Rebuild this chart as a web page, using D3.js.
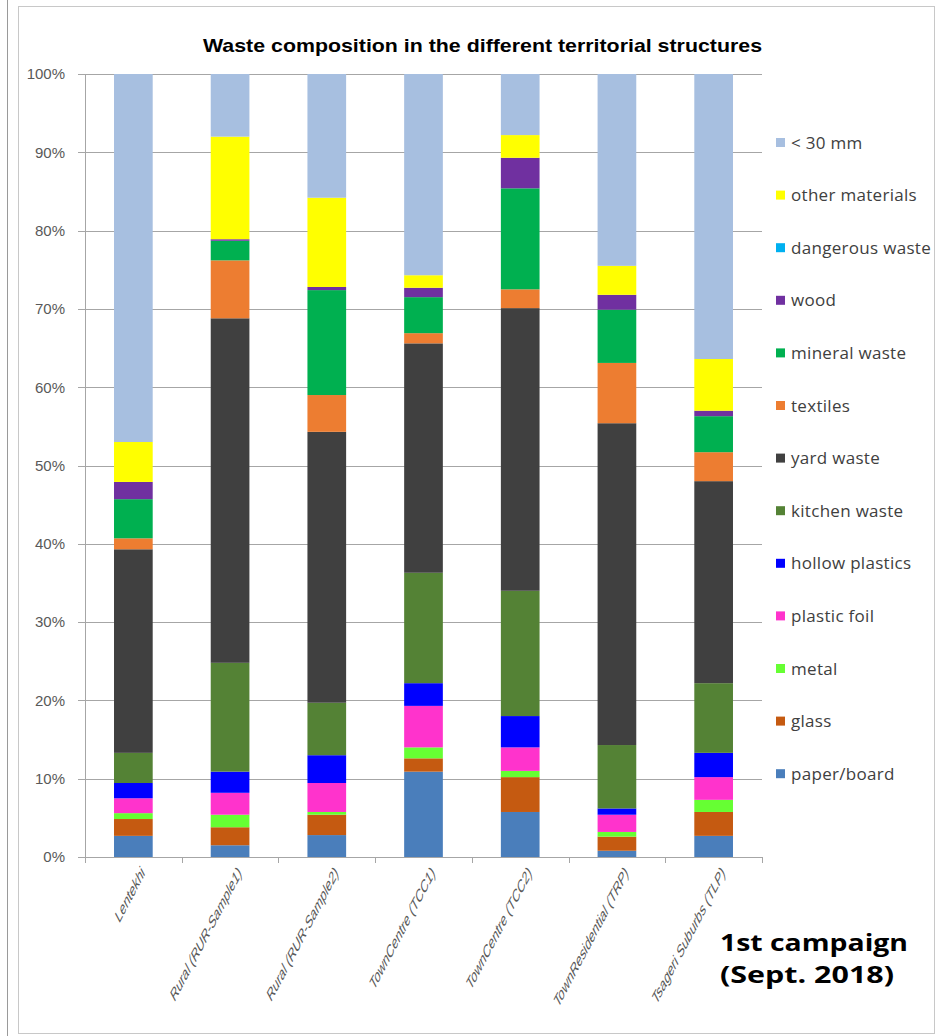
<!DOCTYPE html>
<html>
<head>
<meta charset="utf-8">
<script src="https://cdn.jsdelivr.net/npm/d3@7"></script>
<style>
  html, body { margin: 0; padding: 0; background: #fff; }
  svg { display: block; }
</style>
</head>
<body>
<svg id="chart" width="937" height="1036"></svg>
<script>
// categories (x axis)
const sites = ['Lentekhi', 'Rural (RUR-Sample1)', 'Rural (RUR-Sample2)', 'TownCentre (TCC1)',
    'TownCentre (TCC2)', 'TownResidential (TRP)', 'Tsageri Suburbs (TLP)'];

// series, bottom of the stack first (percent of sample)
const paperBoard = [2.7, 1.5, 2.8, 10.9, 5.75, 0.8, 2.7];
const glass = [2.15, 2.3, 2.6, 1.7, 4.45, 1.8, 3.05];
const metal = [0.75, 1.6, 0.35, 1.4, 0.8, 0.6, 1.55];
const plasticFoil = [1.9, 2.8, 3.7, 5.3, 3.0, 2.2, 2.9];
const hollowPlastics = [1.95, 2.7, 3.55, 2.9, 4.0, 0.8, 3.1];
const kitchenWaste = [3.85, 13.9, 6.7, 14.1, 16.0, 8.1, 8.9];
const yardWaste = [26.0, 44.0, 34.6, 29.3, 36.1, 41.1, 25.8];
const textiles = [1.4, 7.4, 4.7, 1.3, 2.4, 7.7, 3.7];
const mineralWaste = [5.0, 2.5, 13.4, 4.6, 12.9, 6.8, 4.6];
const wood = [2.2, 0.2, 0.4, 1.2, 3.9, 1.9, 0.7];
const dangerousWaste = [0, 0, 0, 0, 0, 0, 0];
const otherMaterials = [5.1, 13.1, 11.4, 1.6, 2.9, 3.7, 6.6];
const under30mm = [47.0, 8.0, 15.8, 25.7, 7.8, 24.5, 36.4];

const seriesNames = ['paper/board', 'glass', 'metal', 'plastic foil', 'hollow plastics', 'kitchen waste',
    'yard waste', 'textiles', 'mineral waste', 'wood', 'dangerous waste', 'other materials', '< 30 mm'];
const seriesValues = [paperBoard, glass, metal, plasticFoil, hollowPlastics, kitchenWaste,
    yardWaste, textiles, mineralWaste, wood, dangerousWaste, otherMaterials, under30mm];
const seriesColors = ['#4a7ebb', '#c55a11', '#66ff33', '#ff33cc', '#0000ff', '#548235',
    '#404040', '#ed7d31', '#00b050', '#7030a0', '#00b0f0', '#ffff00', '#a7bfe0'];

const yTicks = [0, 0.1, 0.2, 0.3, 0.4, 0.5, 0.6, 0.7, 0.8, 0.9, 1];

const svg = d3.select('#chart');
const margin = { left: 85, right: 175, top: 74, bottom: 179 };
const width = 937 - margin.left - margin.right;
const height = 1036 - margin.top - margin.bottom;

// page frame
svg.append('line')
    .attr('x1', 7.5).attr('x2', 7.5).attr('y1', 0).attr('y2', 1036)
    .attr('stroke', '#9a9a9a');
svg.append('rect')
    .attr('x', 18.5).attr('y', 6.5).attr('width', 916).attr('height', 1027)
    .attr('fill', '#fff').attr('stroke', '#c8c8c8');

// one row per site
const rows = sites.map((s, i) => {
    const row = { site: s };
    seriesNames.forEach((n, k) => { row[n] = seriesValues[k][i]; });
    return row;
});
const stacked = d3.stack().keys(seriesNames).offset(d3.stackOffsetExpand)(rows);

const x = d3.scaleBand().domain(sites).range([0, width]).paddingInner(0.6).paddingOuter(0.3);
const y = d3.scaleLinear().domain([0, 1]).range([height, 0]);
const color = d3.scaleOrdinal().domain(seriesNames).range(seriesColors);

const chart = svg.append('g').attr('transform', `translate(${margin.left},${margin.top})`);

// gridlines
chart.append('g')
    .selectAll('line')
    .data(yTicks)
    .join('line')
    .attr('x1', -7).attr('x2', width)
    .attr('y1', (d) => Math.round(y(d)) + 0.5).attr('y2', (d) => Math.round(y(d)) + 0.5)
    .attr('stroke', '#a6a6a6');

// y axis
const yAxis = chart.append('g')
    .call(d3.axisLeft(y).tickValues(yTicks).tickFormat(d3.format('.0%')).tickSize(0).tickPadding(20));
yAxis.select('.domain').attr('stroke', '#a6a6a6');
yAxis.selectAll('text')
    .style('font-family', '"Liberation Sans", Arial, sans-serif')
    .style('font-size', '15px')
    .attr('fill', '#595959');

// bars
chart.append('g')
    .selectAll('g')
    .data(stacked)
    .join('g')
    .attr('fill', (d) => color(d.key))
    .selectAll('rect')
    .data((d) => d)
    .join('rect')
    .attr('x', (d) => x(d.data.site))
    .attr('y', (d) => y(d[1]))
    .attr('height', (d) => y(d[0]) - y(d[1]))
    .attr('width', x.bandwidth());

// x axis with ticks between categories
const xAxis = chart.append('g').attr('transform', `translate(0,${height})`);
xAxis.append('line')
    .attr('x1', 0).attr('x2', width).attr('y1', 0.5).attr('y2', 0.5)
    .attr('stroke', '#a6a6a6');
xAxis.selectAll('.tick-mark')
    .data(d3.range(sites.length + 1))
    .join('line')
    .attr('class', 'tick-mark')
    .attr('x1', (i) => Math.round(i * x.step()) + 0.5)
    .attr('x2', (i) => Math.round(i * x.step()) + 0.5)
    .attr('y1', 0).attr('y2', 6)
    .attr('stroke', '#a6a6a6');
// labels: 45 degree text, vertically stretched like the picture
xAxis.selectAll('.x-label')
    .data(sites)
    .join('text')
    .attr('class', 'x-label')
    .attr('transform', (d) => `translate(${x(d) + x.bandwidth() / 2 + 12},${17}) scale(1,1.9) rotate(-45)`)
    .attr('text-anchor', 'end')
    .style('font-family', '"Liberation Sans", Arial, sans-serif')
    .style('font-size', '9.8px')
    .attr('fill', '#595959')
    .text((d) => d);

// title
svg.append('text')
    .attr('x', 203).attr('y', 52)
    .attr('textLength', 559)
    .attr('lengthAdjust', 'spacingAndGlyphs')
    .style('font-family', '"Liberation Sans", Arial, sans-serif')
    .style('font-weight', 'bold')
    .style('font-size', '19px')
    .attr('fill', '#000')
    .text('Waste composition  in the different territorial structures');

// legend, top entry = top of stack
const legendOrder = seriesNames.slice().reverse();
const legend = svg.append('g').attr('transform', 'translate(776,143)');
const item = legend.selectAll('g')
    .data(legendOrder)
    .join('g')
    .attr('transform', (d, i) => `translate(0,${i * 52.6})`);
item.append('rect')
    .attr('x', 0).attr('y', -5).attr('width', 9).attr('height', 9)
    .attr('fill', (d) => color(d));
item.append('text')
    .attr('x', 15).attr('y', 5.5)
    .style('font-family', '"Open Sans", sans-serif')
    .style('font-size', '17px')
    .style('letter-spacing', '0.3px')
    .attr('fill', '#404040')
    .text((d) => d);

// campaign note
const note = svg.append('g')
    .style('font-family', '"Open Sans", sans-serif')
    .style('font-weight', 'bold')
    .style('font-size', '23px')
    .attr('fill', '#000');
note.append('text').attr('x', 720).attr('y', 951)
    .attr('textLength', 188).attr('lengthAdjust', 'spacingAndGlyphs')
    .text('1st campaign');
note.append('text').attr('x', 720).attr('y', 983)
    .attr('textLength', 174).attr('lengthAdjust', 'spacingAndGlyphs')
    .text('(Sept. 2018)');
</script>
</body>
</html>
